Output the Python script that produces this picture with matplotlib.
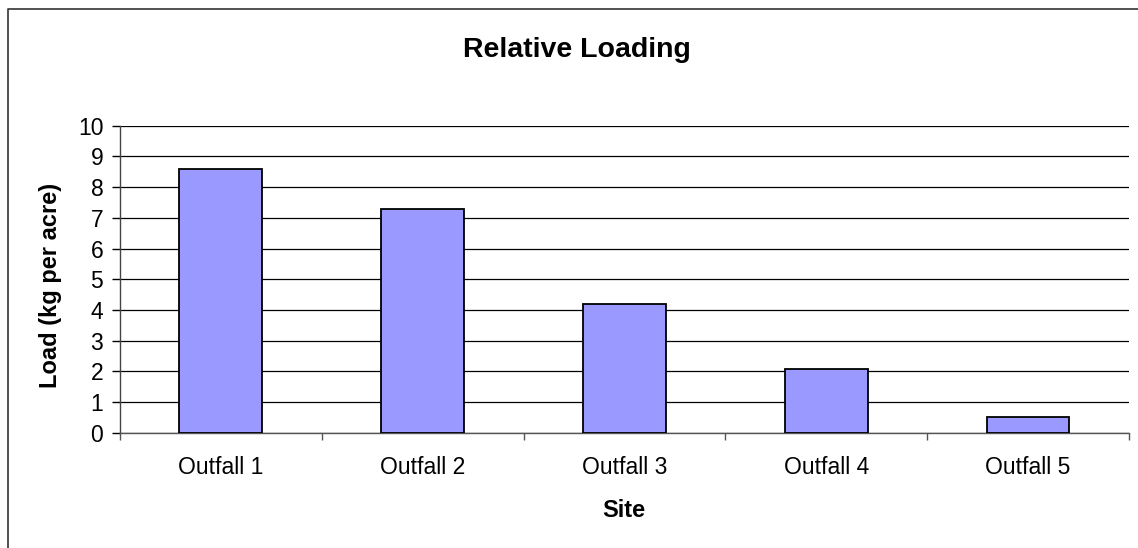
import matplotlib
matplotlib.use("Agg")
import matplotlib.pyplot as plt
from matplotlib.lines import Line2D
import numpy as np

plt.rcParams['font.family'] = ['Liberation Sans', 'DejaVu Sans']

sites = ["Outfall 1", "Outfall 2", "Outfall 3", "Outfall 4", "Outfall 5"]
loads = [8.6, 7.3, 4.2, 2.07, 0.5]
y_ticks = list(range(0, 11))

fig = plt.figure(figsize=(11.38, 5.48), dpi=100)
ax = fig.add_axes([0.1054, 0.2104, 0.8866, 0.5602])

x = np.arange(len(sites))
ax.bar(x, loads, width=0.41, color="#9999FF", edgecolor="black", linewidth=1.3, zorder=3)

ax.set_xlim(-0.5, len(sites) - 0.5)
ax.set_ylim(0, 10)
ax.set_yticks(y_ticks)
ax.set_yticklabels([str(t) for t in y_ticks], fontsize=16.5)

ax.set_xticks(x)
ax.set_xticklabels(sites, fontsize=16.5)
ax.tick_params(axis='x', which='major', length=0, pad=17)
ax.set_xticks(np.arange(-0.5, len(sites), 1.0), minor=True)
ax.tick_params(axis='x', which='minor', length=5, width=1, color='#555555', direction='out')
ax.tick_params(axis='y', length=6, width=1, direction='out', pad=6)

ax.yaxis.grid(True, color='black', linewidth=0.9, zorder=0)
ax.set_axisbelow(True)
for side in ('top', 'right'):
    ax.spines[side].set_visible(False)
ax.spines['left'].set_color('#444444')
ax.spines['bottom'].set_color('#555555')
ax.spines['left'].set_linewidth(1)
ax.spines['bottom'].set_linewidth(1)

fig.text(0.5066, 0.909, "Relative Loading", ha='center', va='center',
         fontsize=20.5, fontweight='bold')
fig.text(0.548, 0.069, "Site", ha='center', va='center',
         fontsize=17, fontweight='bold')
fig.text(0.044, 0.48, "Load (kg per acre)", ha='center', va='center',
         rotation=90, fontsize=17, fontweight='bold')

# chart area frame
fig.add_artist(Line2D([8 / 1138, 8 / 1138, 1.0], [0.0, 1 - 9 / 548, 1 - 9 / 548],
                      transform=fig.transFigure, color='#333333', linewidth=1.2))

fig.savefig("out.png", dpi=100)
